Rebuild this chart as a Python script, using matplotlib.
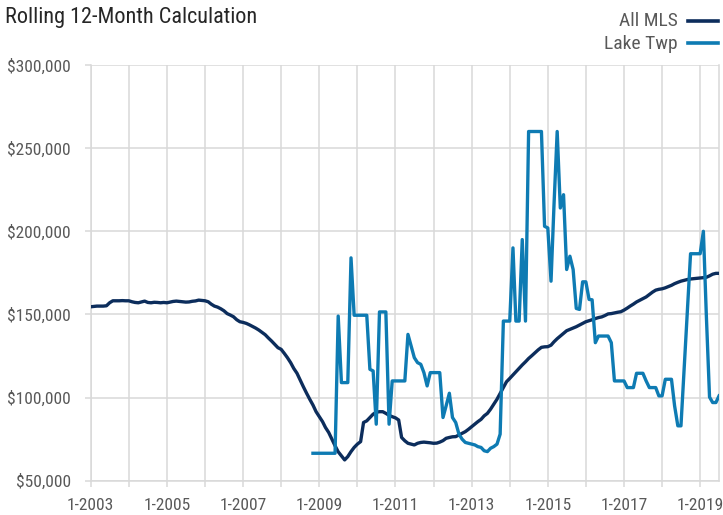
import matplotlib.pyplot as plt
from matplotlib.lines import Line2D
from matplotlib.ticker import FuncFormatter
import numpy as np
import pandas as pd

plt.rcParams['font.family'] = ['Roboto Condensed', 'DejaVu Sans']

# Rolling 12-month values (in $1,000s), monthly from Jan 2003
all_mls = [
    154.6, 154.8, 155.0, 155.0, 155.0, 155.2, 157.0, 158.2, 158.2, 158.2, 158.3, 158.2,  # 2003
    158.2, 157.6, 157.2, 157.0, 157.5, 158.0, 157.2, 157.0, 157.3, 157.2, 157.0, 157.2,  # 2004
    157.0, 157.4, 157.8, 158.0, 157.8, 157.6, 157.4, 157.5, 157.9, 158.1, 158.6, 158.4,  # 2005
    158.2, 157.6, 156.2, 155.0, 154.4, 153.4, 152.2, 150.5, 149.6, 148.6, 146.8, 145.6,  # 2006
    145.2, 144.6, 143.8, 142.8, 141.8, 140.6, 139.2, 137.8, 135.8, 134.0, 132.0, 130.0,  # 2007
    129.0, 126.5, 124.0, 121.0, 117.5, 114.6, 110.6, 106.5, 102.6, 99.0, 95.5, 91.5,     # 2008
    88.5, 85.5, 82.0, 79.0, 75.0, 71.0, 67.4, 65.0, 62.5, 64.5, 67.5, 70.0,              # 2009
    72.0, 73.5, 85.0, 86.0, 88.0, 90.0, 91.2, 91.5, 91.5, 90.5, 89.3, 88.5,              # 2010
    87.8, 86.5, 76.0, 74.0, 72.5, 72.0, 71.5, 72.5, 73.0, 73.2, 73.0, 72.8,              # 2011
    72.5, 72.6, 73.2, 74.1, 75.5, 76.0, 76.4, 76.5, 77.5, 78.5, 79.5, 80.9,              # 2012
    82.5, 84.1, 85.5, 86.9, 89.0, 90.5, 93.0, 96.0, 99.0, 102.5, 106.0, 109.5,           # 2013
    111.5, 113.6, 115.5, 117.6, 119.6, 121.5, 123.5, 125.2, 127.0, 128.7, 130.2, 130.5,  # 2014
    130.6, 131.5, 133.5, 135.4, 137.0, 138.6, 140.2, 141.0, 141.8, 142.6, 143.6, 144.6,  # 2015
    145.6, 146.2, 146.8, 147.5, 148.1, 148.5, 149.3, 150.3, 150.5, 150.9, 151.3, 151.6,  # 2016
    152.6, 153.8, 155.0, 156.2, 157.5, 158.5, 159.4, 160.5, 162.0, 163.4, 164.6, 165.1,  # 2017
    165.4, 166.0, 166.7, 167.5, 168.5, 169.3, 170.0, 170.5, 171.0, 171.3, 171.5, 171.7,  # 2018
    171.9, 172.1, 172.3, 173.2, 174.2, 174.7, 174.7,                                     # 2019
]

# Lake Twp starts Nov 2008
lake_start = '2008-11'
lake_twp = [
    66.5, 66.5,                                                                          # 2008
    66.5, 66.5, 66.5, 66.5, 66.5, 66.5, 149.0, 109.0, 109.0, 109.0, 184.0, 149.5,        # 2009
    149.5, 149.5, 149.5, 149.5, 117.0, 116.0, 84.0, 151.5, 151.5, 151.5, 84.0, 110.0,    # 2010
    110.0, 110.0, 110.0, 110.0, 138.0, 131.0, 124.0, 121.0, 120.0, 115.0, 107.0, 115.0,  # 2011
    115.0, 115.0, 115.0, 88.0, 95.0, 102.6, 88.0, 85.0, 78.0, 75.0, 73.0, 72.5,          # 2012
    72.0, 71.5, 70.5, 70.0, 68.0, 67.5, 69.5, 70.5, 72.0, 78.0, 146.0, 146.0,            # 2013
    146.0, 190.0, 146.0, 146.0, 195.0, 146.0, 260.0, 260.0, 260.0, 260.0, 260.0, 203.0,  # 2014
    202.0, 170.0, 215.0, 260.0, 214.0, 222.0, 177.0, 185.0, 177.0, 153.6, 153.0, 169.6,  # 2015
    169.6, 159.0, 158.8, 133.0, 137.0, 137.0, 137.0, 137.0, 133.0, 110.0, 110.0, 110.0,  # 2016
    110.0, 106.0, 106.0, 106.0, 114.6, 114.6, 114.6, 110.0, 106.0, 106.0, 106.0, 101.0,  # 2017
    101.0, 111.0, 111.0, 111.0, 95.0, 83.0, 83.0, 118.0, 152.0, 186.5, 186.5, 186.5,     # 2018
    186.5, 200.0, 150.0, 100.3, 97.0, 97.0, 101.0,                                       # 2019
]

months = pd.date_range('2003-01-01', periods=len(all_mls), freq='MS')
lake_months = pd.date_range(lake_start + '-01', periods=len(lake_twp), freq='MS')

grid_c = '#d9d9d9'
text_c = '#595959'

fig = plt.figure(figsize=(7.23, 5.15), dpi=100)
ax = fig.add_axes([0.1255, 0.0666, 0.869, 0.8072])

ax.plot(months, np.array(all_mls) * 1000, color='#0c2d5c', lw=2.4, zorder=3,
        solid_joinstyle='round')
ax.plot(lake_months, np.array(lake_twp) * 1000, color='#0e7bb3', lw=2.4, zorder=4,
        solid_joinstyle='round')

ax.set_xlim(months[0], months[-1])
ax.set_ylim(50000, 300000)
ax.set_yticks(np.arange(50000, 300001, 50000))
ax.yaxis.set_major_formatter(FuncFormatter(lambda v, p: f'${v:,.0f}'))

jan_ticks = pd.date_range('2003-01-01', '2019-01-01', freq='YS')
ax.set_xticks(jan_ticks)
ax.set_xticklabels([f'1-{d.year}' if d.year % 2 == 1 else '' for d in jan_ticks])

ax.grid(True, color=grid_c, lw=1.1)
ax.set_axisbelow(True)
for s in ['left', 'right', 'bottom']:
    ax.spines[s].set_color(grid_c)
    ax.spines[s].set_linewidth(1.1)
ax.spines['top'].set_visible(False)

ax.tick_params(axis='both', colors=grid_c, width=1.1, length=4.2, labelcolor=text_c,
               labelsize=12.5)
ax.tick_params(axis='x', pad=8)
ax.tick_params(axis='y', pad=10)

fig.text(5 / 723, 1 - 23.5 / 515, 'Rolling 12-Month Calculation', fontsize=16,
         color='#262626', va='baseline', ha='left')

# legend, top right
for label, color, ly, ty in [('All MLS', '#0c2d5c', 20.7, 26.3),
                             ('Lake Twp', '#0e7bb3', 43.3, 48.7)]:
    fig.text(678 / 723, 1 - ty / 515, label, fontsize=14, color=text_c,
             ha='right', va='baseline')
    fig.add_artist(Line2D([688 / 723, 718 / 723], [1 - ly / 515, 1 - ly / 515],
                          transform=fig.transFigure, color=color, lw=2.6))

fig.savefig('out.png', dpi=100)
